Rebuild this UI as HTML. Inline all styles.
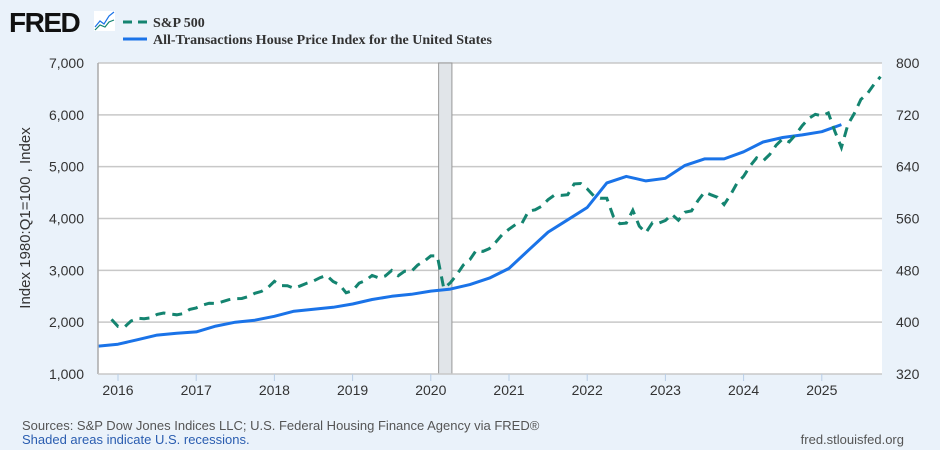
<!DOCTYPE html>
<html><head><meta charset="utf-8"><style>
body{margin:0;background:#eaf2fa;}
svg{display:block;font-family:"Liberation Sans",sans-serif;}
</style></head><body>
<svg width="940" height="450" viewBox="0 0 940 450">
<rect width="940" height="450" fill="#eaf2fa"/>
<text x="9" y="32" font-size="28" font-weight="bold" fill="#111" letter-spacing="-1.5">FRED</text>
<g><rect x="94" y="11" width="21" height="20" fill="#fff"/><polyline points="95,27 100,21 104,24 109,16 114,12" fill="none" stroke="#1a73e8" stroke-width="1.2"/><polyline points="95,30 100,25 105,27 109,22 114,20" fill="none" stroke="#148470" stroke-width="1.2"/></g>
<g>
<line x1="123" y1="22" x2="147" y2="22" stroke="#148470" stroke-width="3" stroke-dasharray="9,6"/>
<text x="153" y="27" font-family="Liberation Serif,serif" font-weight="bold" font-size="14" fill="#333">S&amp;P 500</text>
<line x1="123" y1="39" x2="147" y2="39" stroke="#1a73e8" stroke-width="3"/>
<text x="153" y="44" font-family="Liberation Serif,serif" font-weight="bold" font-size="14" fill="#333">All-Transactions House Price Index for the United States</text>
</g>
<rect x="98" y="63" width="784" height="311" fill="#fff"/>
<g id="grid"></g>
<g id="rec"></g>
<g id="series"></g>
<g id="axes"></g>
<text transform="translate(30,218) rotate(-90)" text-anchor="middle" font-size="15" fill="#333">Index 1980:Q1=100 , Index</text>
<text x="22" y="430" font-size="13" fill="#555">Sources: S&amp;P Dow Jones Indices LLC; U.S. Federal Housing Finance Agency via FRED®</text>
<text x="22" y="444" font-size="13" fill="#2a5db0">Shaded areas indicate U.S. recessions.</text>
<text x="904" y="444" text-anchor="end" font-size="13" fill="#555">fred.stlouisfed.org</text>
</svg>
<script>
const leftTicks=[1000,2000,3000,4000,5000,6000,7000];
const leftTickLabels=["1,000","2,000","3,000","4,000","5,000","6,000","7,000"];
const rightTickLabels=["320","400","480","560","640","720","800"];
const yearTicks=[2016,2017,2018,2019,2020,2021,2022,2023,2024,2025];
const recessionStart=2020.1, recessionEnd=2020.27;
const spStart=2015+11/12;
const spValues=[2054,
1918,1904,2022,2075,2066,2083,2149,2177,2158,2143,2165,2247,
2275,2330,2366,2360,2395,2434,2454,2456,2493,2557,2594,2664,
2789,2705,2703,2654,2701,2754,2794,2857,2902,2785,2723,2567,
2607,2754,2804,2903,2854,2890,2997,2897,2983,2978,3104,3176,
3278,3278,2652,2762,2920,3105,3208,3391,3365,3419,3549,3695,
3794,3883,3910,4141,4168,4238,4363,4454,4445,4460,4667,4675,
4573,4436,4392,4392,4040,3899,3912,4158,3851,3726,3917,3912,
3961,4079,3968,4121,4146,4346,4509,4458,4409,4269,4460,4685,
4815,5012,5170,5112,5235,5415,5538,5478,5621,5792,5930,6010,
5979,6038,5684,5370,5811,6030,6297,6409,6585,6735];
const hpiStart=2015.75;
const hpiValues=[363,366,373,380,383,385,394,400,403,409,417,420,423,428,435,440,443,448,451,458,468,483,511,539,558,577,615,625,618,622,642,652,652,663,678,685,689,694,705];
const NS="http://www.w3.org/2000/svg";
const X0=98,X1=882,Y0=63,Y1=374;
const xDate=d=>118+(d-2016)*78.2;
const yL=v=>Y0+(7000-v)/6000*(Y1-Y0);
const yR=v=>Y0+(800-v)/480*(Y1-Y0);
function mk(t,a,p){const e=document.createElementNS(NS,t);for(const k in a)e.setAttribute(k,a[k]);p.appendChild(e);return e;}
const grid=document.getElementById('grid'),axes=document.getElementById('axes'),rec=document.getElementById('rec'),ser=document.getElementById('series');
leftTicks.forEach((v,i)=>{
  const y=yL(v);
  if(i>0&&i<leftTicks.length-1){const g=mk('line',{x1:X0,x2:X1,y1:y,y2:y,stroke:'#c8c8c8','stroke-width':1.5},grid);
  
  }
  const t=mk('text',{x:84,y:y+5,'text-anchor':'end','font-size':14,fill:'#333'},axes);t.textContent=leftTickLabels[i];
  
  
  const r=mk('text',{x:896,y:y+5,'font-size':14,fill:'#333'},axes);r.textContent=rightTickLabels[i];
  
  
});
const plotTop=mk('line',{x1:X0,x2:X1,y1:Y0,y2:Y0,stroke:'#c8c8c8','stroke-width':1.5},grid);


const lb=mk('line',{x1:X0,x2:X0,y1:Y0,y2:Y1,stroke:'#aaa','stroke-width':1.5},axes);


const bb=mk('line',{x1:X0,x2:X1,y1:Y1,y2:Y1,stroke:'#c8c8c8','stroke-width':1.5},axes);


yearTicks.forEach(yr=>{
  const x=xDate(yr);
  const tk=mk('line',{x1:x,x2:x,y1:Y1,y2:Y1+7,stroke:'#b8cde6','stroke-width':1},axes);
  
  
  const t=mk('text',{x:x,y:395,'text-anchor':'middle','font-size':14,fill:'#333'},axes);t.textContent=yr;
  
  
});
const rr=mk('rect',{x:xDate(recessionStart),y:Y0,width:xDate(recessionEnd)-xDate(recessionStart),height:Y1-Y0,fill:'#e1e5e9',stroke:'#999','stroke-width':1},rec);


const hp=hpiValues.map((v,i)=>xDate(hpiStart+i/4).toFixed(1)+','+yR(v).toFixed(1)).join(' ');
const h=mk('polyline',{points:hp,fill:'none',stroke:'#1a73e8','stroke-width':3,'stroke-linejoin':'round'},ser);


const sp=spValues.map((v,i)=>xDate(spStart+i/12).toFixed(1)+','+yL(v).toFixed(1)).join(' ');
const s=mk('polyline',{points:sp,fill:'none',stroke:'#148470','stroke-width':3,'stroke-dasharray':'10,7'},ser);


</script>
</body></html>
